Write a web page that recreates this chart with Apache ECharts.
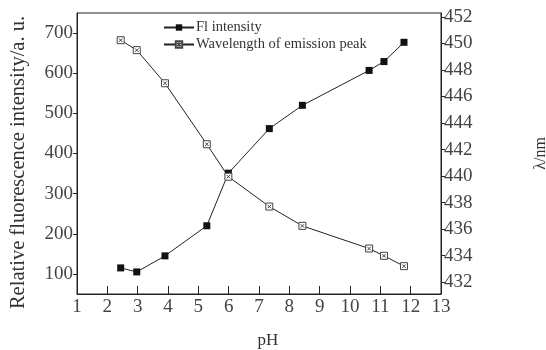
<!DOCTYPE html>
<html><head><meta charset="utf-8">
<script src="https://cdn.jsdelivr.net/npm/echarts@6/dist/echarts.min.js"></script>
<style>html,body{margin:0;padding:0;background:#fff}#c{width:546px;height:350px}</style>
</head><body><div id="c"></div>
<script>
const phFl = [2.44, 2.97, 3.9, 5.28, 5.99, 7.34, 8.43, 10.63, 11.12, 11.78];
const flIntensity = [115, 105, 145, 220, 351, 462, 520, 607, 629, 677];
const phWl = [2.44, 2.97, 3.9, 5.28, 5.99, 7.34, 8.43, 10.63, 11.12, 11.78];
const wavelength = [450.25, 449.5, 447.0, 442.4, 439.95, 437.7, 436.24, 434.53, 433.98, 433.2];
const leftTicks = [100, 200, 300, 400, 500, 600, 700];
const rightTicks = [432, 434, 436, 438, 440, 442, 444, 446, 448, 450, 452];

const font = '"Liberation Serif", "DejaVu Serif", serif';
const chart = echarts.init(document.getElementById('c'), null, {renderer: 'canvas'});
const crossSq = 'path://M0,0H10V10H0Z M2.5,2.5L7.5,7.5 M7.5,2.5L2.5,7.5';
chart.setOption({
  animation: false,
  grid: {left: 77, right: 105, top: 13, bottom: 56, show: true, borderColor: '#222', borderWidth: 1, backgroundColor: 'transparent', containLabel: false, outerBoundsMode: 'none'},
  legend: {
    left: 158, top: 15, orient: 'vertical', itemGap: 2, itemWidth: 30, itemHeight: 8,
    textStyle: {fontFamily: font, fontSize: 14.5, color: '#333', padding: [0, 0, 0, -3]},
    data: ['Fl intensity', 'Wavelength of emission peak']
  },
  xAxis: {
    type: 'value', min: 1, max: 13, interval: 1,
    name: 'pH', nameLocation: 'middle', nameGap: 38,
    nameTextStyle: {fontFamily: font, fontSize: 17, color: '#333', padding: [0, 0, 0, 18]},
    axisLine: {show: true, lineStyle: {color: '#222'}},
    axisTick: {show: true, inside: true, length: 8, lineStyle: {color: '#222'}},
    axisLabel: {fontFamily: font, fontSize: 19, color: '#444', margin: 4},
    splitLine: {show: false}
  },
  yAxis: [{
    type: 'value', min: 50, max: 750, position: 'left',
    name: 'Relative fluorescence intensity/a. u.', nameLocation: 'middle', nameGap: 48,
    nameTextStyle: {fontFamily: font, fontSize: 20.5, color: '#333', padding: [0, 0, 0, -18]},
    axisLine: {show: true, lineStyle: {color: '#222'}},
    axisTick: {show: true, inside: false, length: 4, customValues: leftTicks, lineStyle: {color: '#222'}},
    axisLabel: {fontFamily: font, fontSize: 19, color: '#444', margin: 4, customValues: leftTicks},
    splitLine: {show: false}
  }, {
    type: 'value', min: 431.1, max: 452.3, position: 'right',
    name: 'λ/nm', nameLocation: 'middle', nameGap: 92, nameRotate: 90,
    nameTextStyle: {fontFamily: font, fontSize: 16, color: '#333'},
    axisLine: {show: true, lineStyle: {color: '#222'}},
    axisTick: {show: true, inside: false, length: 4, customValues: rightTicks, lineStyle: {color: '#222'}},
    axisLabel: {fontFamily: font, fontSize: 19, color: '#444', margin: 3, customValues: rightTicks},
    splitLine: {show: false}
  }],
  series: [{
    name: 'Fl intensity', type: 'line', yAxisIndex: 0,
    data: phFl.map((x, i) => [x, flIntensity[i]]),
    symbol: 'rect', symbolSize: 7, showAllSymbol: true,
    lineStyle: {color: '#222', width: 1},
    itemStyle: {color: '#111'}
  }, {
    name: 'Wavelength of emission peak', type: 'line', yAxisIndex: 1,
    data: phWl.map((x, i) => [x, wavelength[i]]),
    symbol: crossSq, symbolSize: 7, showAllSymbol: true,
    lineStyle: {color: '#222', width: 1},
    itemStyle: {color: '#fff', borderColor: '#444', borderWidth: 1}
  }]
});
</script></body></html>
